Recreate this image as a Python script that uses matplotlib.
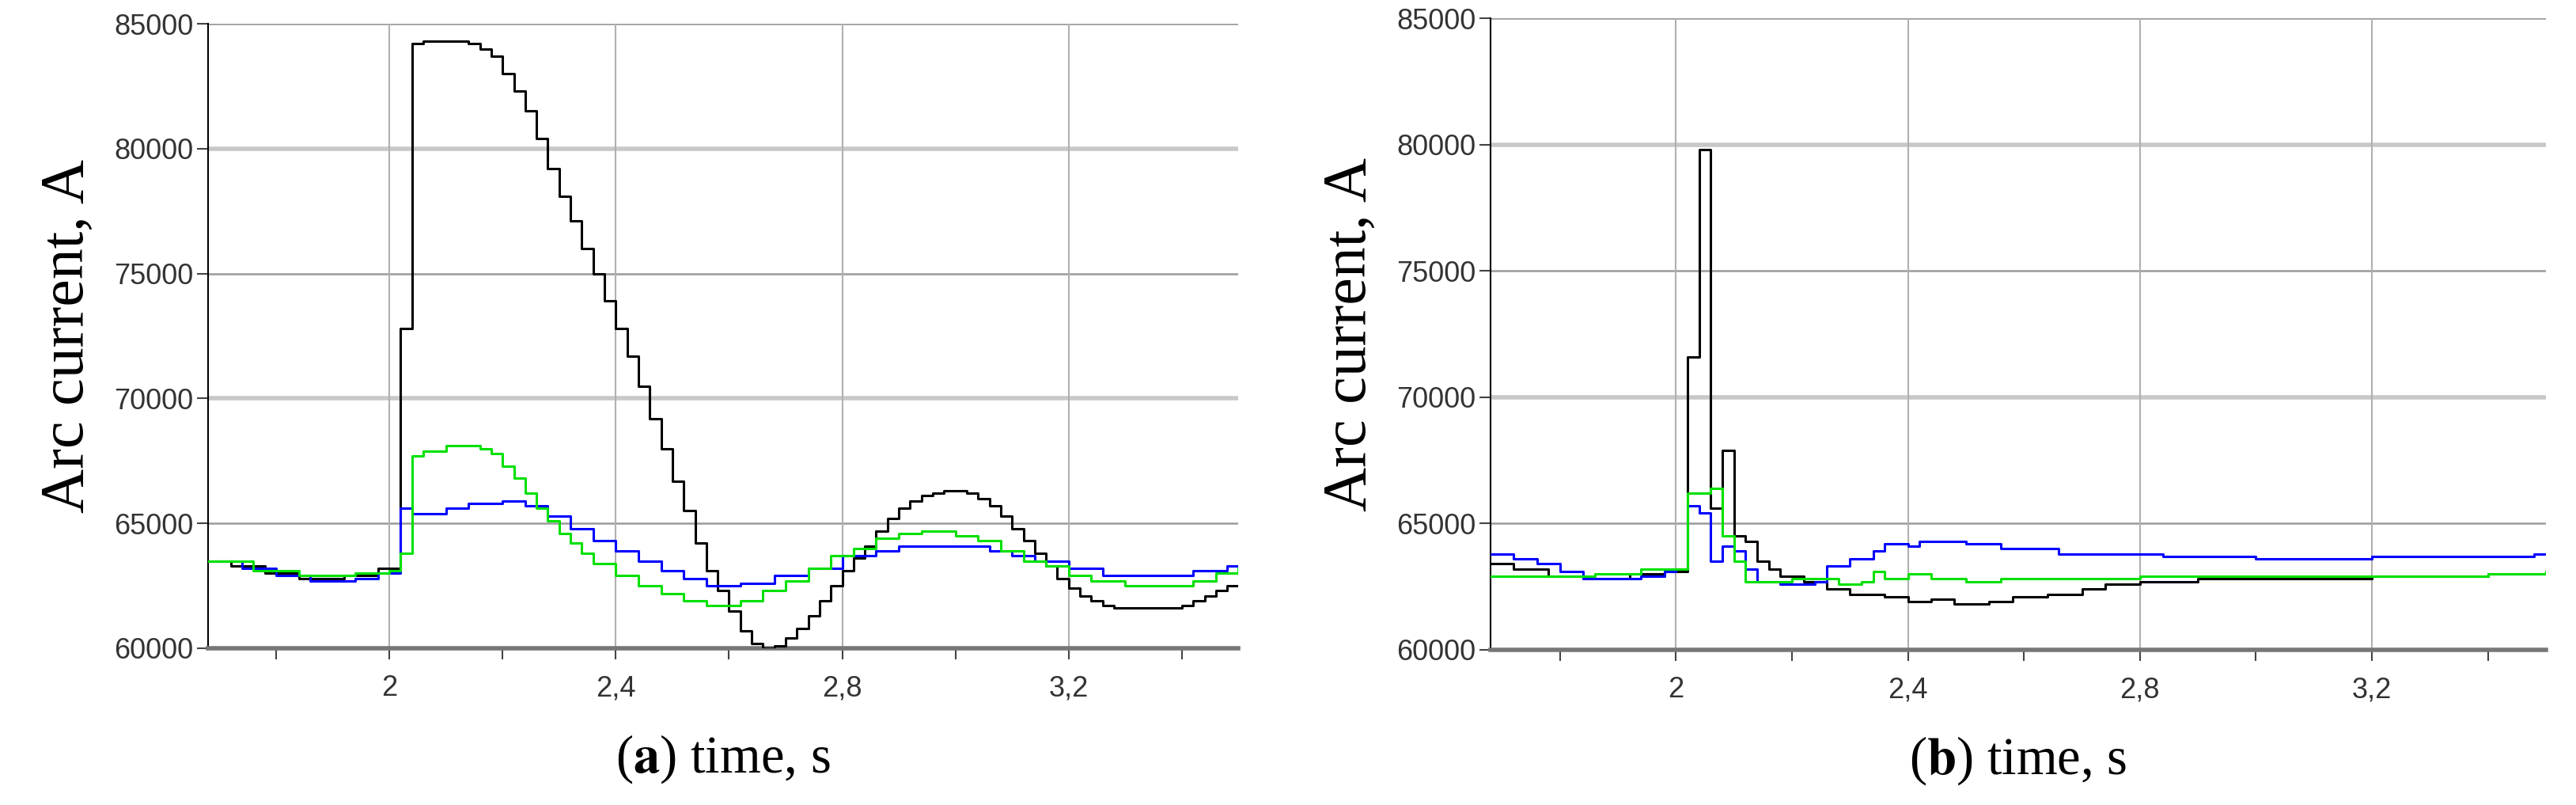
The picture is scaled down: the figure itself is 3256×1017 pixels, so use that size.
import matplotlib
matplotlib.use("Agg")
import matplotlib.pyplot as plt
from matplotlib import font_manager as fm
plt.rcParams["mathtext.fontset"] = "stix"

# ---- data (step breakpoints: time s, current A) ----
a_black_t = [1.68,1.72,1.78,1.84,1.92,1.98,2.02,2.04,2.06,2.14,2.16,2.18,2.20,2.22,2.24,2.26,2.28,2.30,2.32,2.34,2.36,2.38,2.40,2.42,2.44,2.46,2.48,2.50,2.52,2.54,2.56,2.58,2.60,2.62,2.64,2.66,2.68,2.70,2.72,2.74,2.76,2.78,2.80,2.82,2.84,2.86,2.88,2.90,2.92,2.94,2.96,2.98,3.02,3.04,3.06,3.08,3.10,3.12,3.14,3.16,3.18,3.20,3.22,3.24,3.26,3.28,3.32,3.40,3.42,3.44,3.46,3.48,3.50]
a_black_v = [63500,63300,63000,62800,62900,63200,72800,84200,84300,84200,84000,83700,83000,82300,81500,80400,79200,78100,77100,76000,75000,73900,72800,71700,70500,69200,68000,66700,65500,64200,63100,62300,61500,60700,60200,60000,60100,60400,60800,61300,61900,62500,63100,63600,64100,64700,65200,65600,65900,66100,66200,66300,66200,66000,65700,65300,64800,64300,63800,63300,62800,62400,62100,61900,61700,61600,61600,61700,61900,62100,62300,62500,62500]
a_blue_t = [1.68,1.74,1.80,1.86,1.94,1.98,2.02,2.04,2.10,2.14,2.20,2.24,2.28,2.32,2.36,2.40,2.44,2.48,2.52,2.56,2.62,2.68,2.74,2.80,2.86,2.90,3.00,3.06,3.10,3.14,3.20,3.26,3.36,3.42,3.48,3.50]
a_blue_v = [63500,63200,62900,62700,62800,63000,65600,65400,65600,65800,65900,65700,65300,64800,64300,63900,63500,63100,62800,62500,62600,62900,63200,63700,63900,64100,64100,63900,63700,63500,63200,62900,62900,63100,63300,63300]
a_green_t = [1.68,1.76,1.84,1.94,2.00,2.02,2.04,2.06,2.10,2.16,2.18,2.20,2.22,2.24,2.26,2.28,2.30,2.32,2.34,2.36,2.40,2.44,2.48,2.52,2.56,2.62,2.66,2.70,2.74,2.78,2.82,2.86,2.90,2.94,3.00,3.04,3.08,3.12,3.16,3.20,3.24,3.30,3.38,3.42,3.46,3.50]
a_green_v = [63500,63100,62900,63000,63100,63800,67700,67900,68100,68000,67800,67300,66800,66200,65600,65100,64600,64200,63800,63400,62900,62500,62200,61900,61700,61900,62300,62700,63200,63700,64000,64400,64600,64700,64500,64300,63900,63500,63300,62900,62700,62500,62500,62700,63000,63200]

b_black_t = [1.68,1.72,1.78,1.84,1.92,1.98,2.02,2.04,2.06,2.08,2.10,2.12,2.14,2.16,2.18,2.22,2.26,2.30,2.36,2.40,2.44,2.48,2.54,2.58,2.64,2.70,2.74,2.80,2.90,3.20,3.40,3.50]
b_black_v = [63400,63200,62900,62800,63000,63100,71600,79800,65600,67900,64500,64300,63500,63200,62900,62700,62400,62200,62100,61900,62000,61800,61900,62100,62200,62400,62600,62700,62800,62900,63000,63000]
b_blue_t = [1.68,1.72,1.76,1.80,1.84,1.94,1.98,2.00,2.02,2.04,2.06,2.08,2.10,2.12,2.14,2.18,2.24,2.26,2.30,2.34,2.36,2.40,2.42,2.50,2.56,2.66,2.84,3.00,3.20,3.48,3.50]
b_blue_v = [63800,63600,63400,63100,62800,62900,63100,63200,65700,65400,63500,64100,63900,63200,62700,62600,62700,63300,63600,63900,64200,64100,64300,64200,64000,63800,63700,63600,63700,63800,63800]
b_green_t = [1.68,1.86,1.94,2.02,2.06,2.08,2.10,2.12,2.20,2.28,2.32,2.34,2.36,2.40,2.44,2.50,2.56,2.80,3.40,3.50]
b_green_v = [62900,63000,63200,66200,66400,64500,63500,62700,62800,62600,62700,63100,62800,63000,62800,62700,62800,62900,63000,63100]

x_ticks = [2.0, 2.4, 2.8, 3.2]
x_tick_labels = ["2", "2,4", "2,8", "3,2"]
y_ticks = [60000, 65000, 70000, 75000, 80000, 85000]
panel_letters = ["a", "b"]

names = {f.name for f in fm.fontManager.ttflist}
tick_font = "Liberation Sans Narrow" if "Liberation Sans Narrow" in names else "Liberation Sans"
serif = "Liberation Serif"

fig = plt.figure(figsize=(32.56, 10.17), dpi=100)
positions = [[0.0808, 0.1947, 0.400, 0.7758], [0.5786, 0.193, 0.4097, 0.784]]
panels = [
    [(a_black_t, a_black_v, "black"), (a_blue_t, a_blue_v, "#0000ff"), (a_green_t, a_green_v, "#00e000")],
    [(b_black_t, b_black_v, "black"), (b_blue_t, b_blue_v, "#0000ff"), (b_green_t, b_green_v, "#00e000")],
]
for pos, series, letter in zip(positions, panels, panel_letters):
    ax = fig.add_axes(pos)
    for t, v, c in series:
        ax.plot(t, v, drawstyle="steps-post", color=c, lw=2.2, zorder=3)
    ax.set_xlim(1.68, 3.5)
    ax.set_ylim(60000, 85000)
    ax.set_xticks(x_ticks)
    ax.set_xticklabels(x_tick_labels)
    ax.set_xticks([1.8, 2.2, 2.6, 3.0, 3.4], minor=True)
    ax.set_yticks(y_ticks)
    ax.set_yticklabels([str(y) for y in y_ticks])
    for y in y_ticks[1:]:
        heavy = y in (70000, 80000)
        ax.axhline(y, color="#c8c8c8" if heavy else "#9a9a9a", lw=4 if heavy else 1.8, zorder=1)
    for x in x_ticks:
        ax.axvline(x, color="#b0b0b0", lw=1.5, zorder=1)
    for s in ["top", "right"]:
        ax.spines[s].set_visible(False)
    ax.spines["left"].set_color("black")
    ax.spines["left"].set_linewidth(1.5)
    ax.spines["bottom"].set_color("#777777")
    ax.spines["bottom"].set_linewidth(4)
    ax.tick_params(axis="both", which="both", length=10, width=1.5, color="#444444", direction="out")
    for lab in ax.get_xticklabels() + ax.get_yticklabels():
        lab.set_fontfamily(tick_font)
        lab.set_fontsize(26)
        lab.set_color("#333333")
    ax.tick_params(axis="x", pad=14)
    ax.set_ylabel("Arc current, A", fontsize=56, family=serif, labelpad=16)
    ax.set_xlabel(r"($\mathbf{" + letter + r"}$) time, s", fontsize=48, family=serif, labelpad=28)

fig.savefig("out.png", dpi=100)
